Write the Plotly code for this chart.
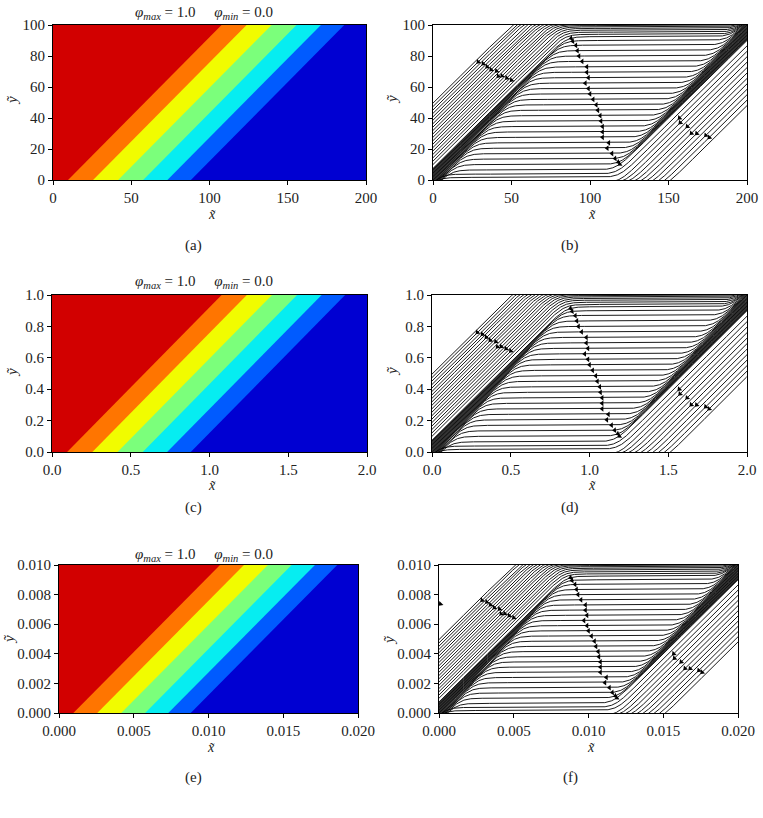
import numpy as np
import plotly.graph_objects as go

W, H = 763, 818
FONT = "Liberation Serif, DejaVu Serif, serif"

# ---------------- data (normalized units: x 0..200, y 0..100) ----------------
# contour band boundaries at y=0 and at y=100 (red -> dark blue)
band_bottom = [9.6, 25.6, 41.6, 57.6, 73.1, 88.1]
band_top = [107.7, 123.7, 139.7, 155.6, 171.2, 186.1]
band_colors = ["#D20000", "#FF7500", "#F1FC00", "#7BFF7B", "#06EDF1", "#005BFF", "#0000D2"]

# panel scale factors (rows) and tick labels
scales = [1.0, 0.01, 0.0001]
x_tick_vals = [[0, 50, 100, 150, 200], [0, 0.5, 1.0, 1.5, 2.0], [0, 0.005, 0.010, 0.015, 0.020]]
y_tick_vals = [[0, 20, 40, 60, 80, 100], [0, 0.2, 0.4, 0.6, 0.8, 1.0],
               [0, 0.002, 0.004, 0.006, 0.008, 0.010]]
tick_formats = ["d", ".1f", ".3f"]

# streamlines: left diagonal offset cL, horizontal level h, right diagonal offset cR
upper_cL = [-10, -12.2, -14.4, -16.6, -18.8, -21, -23.2, -25.4, -27.6, -29.8,
            -32, -34.2, -36.4, -38.6, -40.8, -43, -45.2, -47.4, -49.6]
upper_h = [94.0, 95.4, 96.7, 97.8, 98.8, 99.6, 100.3, 100.9, 101.4, 101.9,
           102.3, 102.7, 103.1, 103.5, 103.9, 104.3, 104.7, 105.1, 105.5]
upper_cR = [97.6, 97.4, 97.2, 97.0, 96.8, 96.7, 96.6, 96.5, 96.4, 96.3,
            96.2, 96.1, 96.0, 95.9, 95.8, 95.7, 95.6, 95.5, 95.4]

mid_h = [6.5, 10, 13.5, 17, 20.5, 24, 27.5, 31, 34.5, 38, 41.5, 45, 48.5,
         52, 55.5, 59, 62.5, 66, 69.5, 73, 76.5, 80, 83.5, 87, 90, 92.5]
mid_cL = [5.0, 4.5, 4.0, 3.5, 3.0, 2.5, 2.0, 1.5, 1.0, 0.5, 0.0, -0.5, -1.0,
          -1.5, -2.0, -2.5, -3.0, -3.5, -4.0, -4.5, -5.0, -5.5, -6.0, -6.5, -7.0, -7.5]
mid_cR = [110, 109.5, 109, 108.5, 108, 107.5, 107, 106.5, 106, 105.5, 105, 104.5, 104,
          103.5, 103, 102.5, 102, 101.5, 101, 100.5, 100, 99.5, 99, 98.6, 98.2, 97.8]
mid_arrow_x = [119, 118, 116, 114, 111, 112, 108, 108, 108, 107, 106.5, 105, 104,
               102, 100, 99, 97, 99, 98, 98, 95, 93, 92, 91, 89, 88]

lower_cL = [1.0, 1.0, 1.0, 1.0, 1.0, 1.0, 1.0, 1.0, 1.0, 1.0, 1.0, 1.0]
lower_h = [-6.0, -5.5, -5.0, -4.5, -4.0, -3.5, -3.0, -2.6, -2.2, -1.8, 1.7, 3.8]
lower_cR = [152, 148.5, 145, 141.5, 138, 134.5, 131, 127.5, 124, 120.5, 117, 113.5]

# arrows on upper-left and lower-right families (line index, x position)
upper_arrow_idx = [17, 15, 13, 11, 9, 7, 6, 4, 2]
upper_arrow_x = [28.8, 32, 34.5, 37, 40.5, 41.6, 44, 47, 50]
lower_arrow_idx = [10, 9, 7, 5, 4, 2, 1]
lower_arrow_x = [157, 157.5, 162, 164.6, 168, 173.8, 176]

# ---------------- layout geometry (pixels) ----------------
# (left, right, top, bottom) for [contour, stream] per row
boxes = [
    [(53, 366, 25, 180), (433, 747, 25, 180)],
    [(52, 367, 295, 452), (432, 747, 295, 452)],
    [(59, 358, 565, 713), (439, 738, 565, 713)],
]
title_y = [13, 282, 555]
xlab_y = [214, 485, 747]
ylab_x = [[12, 392], [12, 392], [9, 389]]
ylab_y = [100, 372, 640]
panel_label_y = [245, 507, 777]
panel_labels = [["(a)", "(b)"], ["(c)", "(d)"], ["(e)", "(f)"]]


def line_y(X, cL, h, cR, k=3.2):
    a = k * np.logaddexp((X - cR) / k, h / k)
    return -k * np.logaddexp(-a / k, -(X - cL) / k)


fig = go.Figure()
annotations = []
layout_axes = {}
Xg = np.linspace(0, 200, 1601)

ax_n = 0
for r in range(3):
    s = scales[r]
    for c in range(2):
        ax_n += 1
        xa = "x" if ax_n == 1 else f"x{ax_n}"
        ya = "y" if ax_n == 1 else f"y{ax_n}"
        L, R, T, B = boxes[r][c]
        xkey = "xaxis" if ax_n == 1 else f"xaxis{ax_n}"
        ykey = "yaxis" if ax_n == 1 else f"yaxis{ax_n}"
        common = dict(showline=True, linecolor="black", linewidth=1, mirror=True,
                      ticks="outside", ticklen=4, tickwidth=1, tickcolor="black",
                      showgrid=False, zeroline=False, fixedrange=True, automargin=False,
                      tickfont=dict(family=FONT, size=15, color="#222"),
                      tickformat=tick_formats[r])
        layout_axes[xkey] = dict(common, domain=[L / W, R / W], range=[0, 200 * s],
                                 tickvals=x_tick_vals[r], anchor=ya)
        layout_axes[ykey] = dict(common, domain=[1 - B / H, 1 - T / H], range=[0, 100 * s],
                                 tickvals=y_tick_vals[r], anchor=xa)

        if c == 0:
            # filled contour bands, layered from right to left
            fig.add_trace(go.Scatter(x=[0, 200 * s, 200 * s, 0, 0], y=[0, 0, 100 * s, 100 * s, 0],
                                     fill="toself", fillcolor=band_colors[-1], mode="lines",
                                     line=dict(width=0), xaxis=xa, yaxis=ya,
                                     hoverinfo="skip", showlegend=False))
            for k in range(len(band_bottom) - 1, -1, -1):
                fig.add_trace(go.Scatter(
                    x=[0, band_bottom[k] * s, band_top[k] * s, 0, 0],
                    y=[0, 0, 100 * s, 100 * s, 0],
                    fill="toself", fillcolor=band_colors[k], mode="lines",
                    line=dict(width=0), xaxis=xa, yaxis=ya,
                    hoverinfo="skip", showlegend=False))
            annotations.append(dict(
                x=204 / W, y=1 - title_y[r] / H, xref="paper", yref="paper",
                text="<i>φ<sub>max</sub></i> = 1.0\u00a0\u00a0\u00a0\u00a0\u00a0<i>φ<sub>min</sub></i> = 0.0",
                showarrow=False, font=dict(family=FONT, size=15, color="#222"),
                xanchor="center", yanchor="middle"))
        else:
            xs, ys = [], []
            fams = [(upper_cL, upper_h, upper_cR), (mid_cL, mid_h, mid_cR),
                    (lower_cL, lower_h, lower_cR)]
            for cLs, hs, cRs in fams:
                for cl, hh, cr in zip(cLs, hs, cRs):
                    Y = line_y(Xg, cl, hh, cr)
                    Y = np.where((Y > 101) | (Y < -1), np.nan, Y)
                    xs.extend(list(Xg * s) + [None])
                    ys.extend(list(Y * s) + [None])
            fig.add_trace(go.Scatter(x=xs, y=ys, mode="lines",
                                     line=dict(color="black", width=0.9),
                                     xaxis=xa, yaxis=ya, hoverinfo="skip",
                                     showlegend=False, connectgaps=False))
            # arrows
            pxu = (R - L) / 200.0
            pyu = (B - T) / 100.0
            ax_x, ax_y, ang = [], [], []

            def add_arrow(xv, cl, hh, cr):
                yv = line_y(np.array([xv]), cl, hh, cr)[0]
                d = (line_y(np.array([xv + 0.2]), cl, hh, cr)[0] -
                     line_y(np.array([xv - 0.2]), cl, hh, cr)[0]) / 0.4
                theta = np.degrees(np.arctan(d * pyu / pxu))
                ax_x.append(xv * s)
                ax_y.append(yv * s)
                ang.append(-theta)

            for i, xv in enumerate(mid_arrow_x):
                add_arrow(xv, mid_cL[i], mid_h[i], mid_cR[i])
            for i, xv in zip(upper_arrow_idx, upper_arrow_x):
                add_arrow(xv, upper_cL[i], upper_h[i], upper_cR[i])
            for i, xv in zip(lower_arrow_idx, lower_arrow_x):
                add_arrow(xv, lower_cL[i], lower_h[i], lower_cR[i])
            if r == 2:
                ax_x.append(1.0 * s)
                ax_y.append(73.7 * s)
                ang.append(-45)
            fig.add_trace(go.Scatter(x=ax_x, y=ax_y, mode="markers",
                                     marker=dict(symbol="triangle-left", size=5, color="black",
                                                 angle=ang, line=dict(width=0)),
                                     xaxis=xa, yaxis=ya, hoverinfo="skip", showlegend=False))

        cx = (L + R) / 2
        annotations.append(dict(x=(cx + 2) / W, y=1 - xlab_y[r] / H, xref="paper", yref="paper",
                                text="<i>x\u0303</i>", showarrow=False,
                                font=dict(family=FONT, size=14, color="#222"),
                                xanchor="center", yanchor="middle"))
        annotations.append(dict(x=ylab_x[r][c] / W, y=1 - ylab_y[r] / H, xref="paper", yref="paper",
                                text="<i>y\u0303</i>", showarrow=False, textangle=-90,
                                font=dict(family=FONT, size=15, color="#222"),
                                xanchor="center", yanchor="middle"))
        annotations.append(dict(x=(193 if c == 0 else 570) / W, y=1 - panel_label_y[r] / H,
                                xref="paper", yref="paper", text=panel_labels[r][c],
                                showarrow=False, font=dict(family=FONT, size=15, color="#222"),
                                xanchor="center", yanchor="middle"))

# partially visible caption character at the bottom edge
annotations.append(dict(x=587 / W, y=1 - 813 / H, xref="paper", yref="paper", text="2",
                        showarrow=False, font=dict(family=FONT, size=11, color="#444"),
                        xanchor="center", yanchor="top"))

fig.update_layout(width=W, height=H, margin=dict(l=0, r=0, t=0, b=0, autoexpand=False),
                  paper_bgcolor="white", plot_bgcolor="white",
                  annotations=annotations, **layout_axes)
fig.write_html("out.html")
